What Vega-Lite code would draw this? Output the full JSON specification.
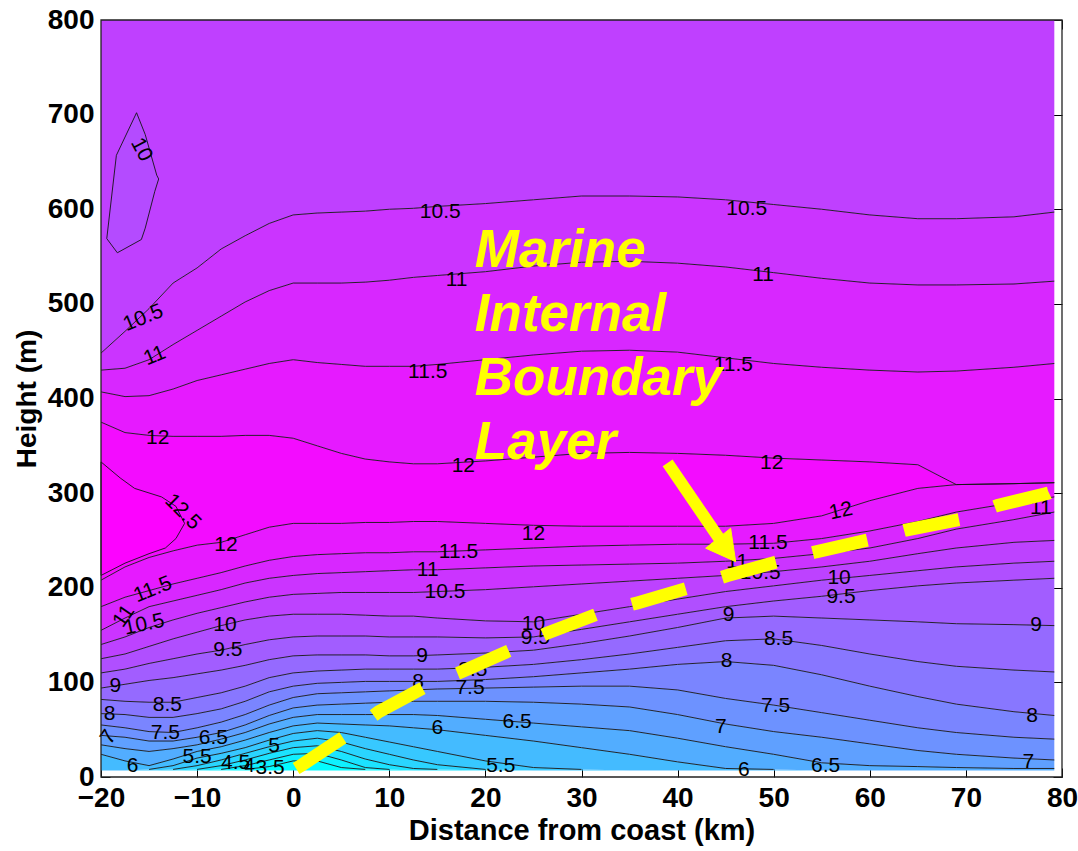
{
  "$schema": "https://vega.github.io/schema/vega-lite/v6.json",
  "width": 961,
  "height": 757,
  "autosize": {"type": "none"},
  "padding": {"left": 101, "top": 20, "right": 16, "bottom": 74},
  "background": "white",
  "config": {
    "view": {"stroke": null},
    "axis": {"domain": false, "grid": false, "labelFont": "Liberation Sans", "titleFont": "Liberation Sans", "labelFontWeight": "bold", "titleFontWeight": "bold", "labelColor": "#000", "titleColor": "#000", "tickColor": "#000", "labelOverlap": false},
    "text": {"font": "Liberation Sans", "fontSize": 21, "fill": "#000", "align": "center", "baseline": "middle"}
  },
  "datasets": {
    "c": [
      {"k": 0, "v": 3.3, "x": [-20,-17.5,-15,-12.5,-10,-7.5,-5,-2.5,0,2.5,5,7.5,10,12.5,15,20,25,30,35,40,45,50,55,60,65,69,75,79.2], "y": [7,7,7,7,7,7,7,7,7,7,7,7,7,7,7,7,7,7,7,7,7,7,7,7,7,7,7,7]},
      {"k": 1, "v": 3.75, "x": [-20,-17.5,-15,-12.5,-10,-7.5,-5,-2.5,0,2.5,5,7.5,10,12.5,15,20,25,30,35,40,45,50,55,60,65,69,75,79.2], "y": [7,7,7,7,7,7,8,11,17,17,10,8,7,7,7,7,7,7,7,7,7,7,7,7,7,7,7,7]},
      {"k": 2, "v": 4.25, "x": [-20,-17.5,-15,-12.5,-10,-7.5,-5,-2.5,0,2.5,5,7.5,10,12.5,15,20,25,30,35,40,45,50,55,60,65,69,75,79.2], "y": [7,7,7,7,7,8,12,18,24,25,18,10,8,7,7,7,7,7,7,7,7,7,7,7,7,7,7,7]},
      {"k": 3, "v": 4.75, "x": [-20,-17.5,-15,-12.5,-10,-7.5,-5,-2.5,0,2.5,5,7.5,10,12.5,15,20,25,30,35,40,45,50,55,60,65,69,75,79.2], "y": [7,7,7,7,8,12,18,25,31,33,27,19,13,9,8,7,7,7,7,7,7,7,7,7,7,7,7,7]},
      {"k": 4, "v": 5.25, "x": [-20,-17.5,-15,-12.5,-10,-7.5,-5,-2.5,0,2.5,5,7.5,10,12.5,15,20,25,30,35,40,45,50,55,60,65,69,75,79.2], "y": [7,7,7,8,12,18,25,32,38,41,37,30,24,18,13,8,7,7,7,7,7,7,7,7,7,7,7,7]},
      {"k": 5, "v": 5.75, "x": [-20,-17.5,-15,-12.5,-10,-7.5,-5,-2.5,0,2.5,5,7.5,10,12.5,15,20,25,30,35,40,45,50,55,60,65,69,75,79.2], "y": [7,7,8,12,20,25,31,39,46,49,47,42,37,32,27,17,10,8,7,7,7,7,7,7,7,7,7,7]},
      {"k": 6, "v": 6.25, "x": [-20,-17.5,-15,-12.5,-10,-7.5,-5,-2.5,0,2.5,5,7.5,10,12.5,15,20,25,30,35,40,45,50,55,60,65,69,75,79.2], "y": [24,17,12,19,27,32,39,47,54,57,56,55,54,52,50,44,38,31,24,16,9,8,7,7,7,7,7,7]},
      {"k": 7, "v": 6.75, "x": [-20,-17.5,-15,-12.5,-10,-7.5,-5,-2.5,0,2.5,5,7.5,10,12.5,15,20,25,30,35,40,45,50,55,60,65,69,75,79.2], "y": [34,30,27,30,34,40,47,56,63,66,66,66,66,66,65,61,57,53,49,41,32,24,15,12,11,10,9,9]},
      {"k": 8, "v": 7.25, "x": [-20,-17.5,-15,-12.5,-10,-7.5,-5,-2.5,0,2.5,5,7.5,10,12.5,15,20,25,30,35,40,45,50,55,60,65,69,75,79.2], "y": [44,42,38,38,42,47,55,65,73,76,77,78,79,80,80,80,79,77,74,66,56,48,42,35,28,24,20,18]},
      {"k": 9, "v": 7.75, "x": [-20,-17.5,-15,-12.5,-10,-7.5,-5,-2.5,0,2.5,5,7.5,10,12.5,15,20,25,30,35,40,45,50,55,60,65,69,75,79.2], "y": [55,52,48,47,52,58,66,76,84,88,89,90,91,92,93,94,95,96,96,92,83,76,68,60,52,47,42,40]},
      {"k": 10, "v": 8.25, "x": [-20,-17.5,-15,-12.5,-10,-7.5,-5,-2.5,0,2.5,5,7.5,10,12.5,15,20,25,30,35,40,45,50,55,60,65,69,75,79.2], "y": [67,66,63,63,67,72,80,90,96,99,100,101,101,101,101,103,106,110,114,119,122,118,108,96,85,77,69,65]},
      {"k": 11, "v": 8.75, "x": [-20,-17.5,-15,-12.5,-10,-7.5,-5,-2.5,0,2.5,5,7.5,10,12.5,15,20,25,30,35,40,45,50,55,60,65,69,75,79.2], "y": [82,80,79,79,84,89,96,105,110,112,113,114,114,114,114,116,119,124,130,137,144,146,139,130,122,117,113,111]},
      {"k": 12, "v": 9.25, "x": [-20,-17.5,-15,-12.5,-10,-7.5,-5,-2.5,0,2.5,5,7.5,10,12.5,15,20,25,30,35,40,45,50,55,60,65,69,75,79.2], "y": [94,98,102,105,109,113,118,124,128,129,129,129,128,128,129,131,134,141,149,158,168,170,168,166,164,162,161,160]},
      {"k": 13, "v": 9.75, "x": [-20,-17.5,-15,-12.5,-10,-7.5,-5,-2.5,0,2.5,5,7.5,10,12.5,15,20,25,30,35,40,45,50,55,60,65,69,75,79.2], "y": [110,114,120,125,130,134,140,145,148,149,149,149,148,148,148,147,148,156,164,172,180,186,191,197,202,205,208,210]},
      {"k": 14, "v": 10.25, "x": [-20,-17.5,-15,-12.5,-10,-7.5,-5,-2.5,0,2.5,5,7.5,10,12.5,15,20,25,30,35,40,45,50,55,60,65,69,75,79.2], "y": [125,130,138,146,153,160,166,170,172,172,172,171,170,170,168,165,164,172,180,188,196,202,208,213,218,222,226,228]},
      {"k": 15, "v": 10.75, "x": [-20,-17.5,-15,-12.5,-10,-7.5,-5,-2.5,0,2.5,5,7.5,10,12.5,15,20,25,30,35,40,45,50,55,60,65,69,75,79.2], "y": [140,148,158,166,173,179,185,190,193,194,195,195,195,195,196,198,201,204,207,210,213,217,222,228,236,242,248,250]},
      {"k": 16, "v": 11.25, "x": [-20,-17.5,-15,-12.5,-10,-7.5,-5,-2.5,0,2.5,5,7.5,10,12.5,15,20,25,30,35,40,45,50,55,60,65,69,75,79.2], "y": [155,168,180,186,192,198,205,210,213,215,216,217,218,219,219,221,223,224,225,226,228,231,236,242,252,262,272,280]},
      {"k": 17, "v": 11.75, "x": [-20,-17.5,-15,-12.5,-10,-7.5,-5,-2.5,0,2.5,5,7.5,10,12.5,15,20,25,30,35,40,45,50,55,60,65,69,75,79.2], "y": [180,190,197,204,210,216,223,229,233,235,236,237,237,238,238,240,242,244,245,246,246,247,252,260,270,280,290,296]},
      {"k": 18, "v": 12.25, "x": [-20,-17.5,-15,-12.5,-10,-7.5,-5,-2.5,0,2.5,5,7.5,10,12.5,15,20,25,30,35,40,45,50,55,60,65,69,75,79.2], "y": [208,222,232,239,245,248,256,264,268,268,268,269,269,270,270,268,266,265,265,265,265,268,276,292,305,309,310,311]},
      {"k": 19, "v": 11.75, "x": [-20,-17.5,-15,-12.5,-10,-7.5,-5,-2.5,0,2.5,5,7.5,10,12.5,15,20,25,30,35,40,45,50,55,60,65,69,75,79.2], "y": [375,364,361,360,360,360,361,361,358,350,342,336,333,331,331,334,338,342,343,342,340,337,335,333,330,309,310,311]},
      {"k": 20, "v": 11.25, "x": [-20,-17.5,-15,-12.5,-10,-7.5,-5,-2.5,0,2.5,5,7.5,10,12.5,15,20,25,30,35,40,45,50,55,60,65,69,75,79.2], "y": [407,402,403,410,419,425,431,437,441,438,436,434,434,434,436,441,446,450,451,449,443,437,433,430,428,429,433,437]},
      {"k": 21, "v": 10.75, "x": [-20,-17.5,-15,-12.5,-10,-7.5,-5,-2.5,0,2.5,5,7.5,10,12.5,15,20,25,30,35,40,45,50,55,60,65,69,75,79.2], "y": [430,432,441,457,472,487,502,514,522,522,522,523,525,528,530,534,540,544,545,543,539,533,527,522,520,520,521,524]},
      {"k": 22, "v": 10.3, "x": [-20,-17.5,-15,-12.5,-10,-7.5,-5,-2.5,0,2.5,5,7.5,10,12.5,15,20,25,30,35,40,45,50,55,60,65,69,75,79.2], "y": [448,471,495,522,538,558,572,585,594,596,597,598,600,601,603,606,610,614,614,613,610,605,600,594,590,590,592,597]},
      {"k": 23, "v": null, "x": [-20,-17.5,-15,-12.5,-10,-7.5,-5,-2.5,0,2.5,5,7.5,10,12.5,15,20,25,30,35,40,45,50,55,60,65,69,75,79.2], "y": [800,800,800,800,800,800,800,800,800,800,800,800,800,800,800,800,800,800,800,800,800,800,800,800,800,800,800,800]}
    ],
    "labs": [
      {"t": "10.5", "x": 15.3, "y": 597}, {"t": "10.5", "x": 47.2, "y": 600},
      {"t": "11", "x": 17, "y": 525}, {"t": "11", "x": 48.9, "y": 531},
      {"t": "11.5", "x": 14, "y": 428}, {"t": "11.5", "x": 45.8, "y": 435},
      {"t": "12", "x": -14.1, "y": 358}, {"t": "12", "x": 17.7, "y": 329}, {"t": "12", "x": 49.8, "y": 332},
      {"t": "12", "x": -7, "y": 245}, {"t": "12", "x": 25, "y": 257}, {"t": "11", "x": 77.8, "y": 284},
      {"t": "10", "x": -7.1, "y": 161}, {"t": "9.5", "x": -6.8, "y": 134}, {"t": "9", "x": -18.5, "y": 96},
      {"t": "8.5", "x": -13.1, "y": 76}, {"t": "8", "x": -19.1, "y": 67}, {"t": "7.5", "x": -13.3, "y": 46.5},
      {"t": "6.5", "x": -8.3, "y": 41}, {"t": "6", "x": -16.7, "y": 12}, {"t": "5.5", "x": -10, "y": 21},
      {"t": "5", "x": -2, "y": 33}, {"t": "4.5", "x": -6, "y": 15}, {"t": "4", "x": -4.6, "y": 12}, {"t": "3.5", "x": -2.4, "y": 10},
      {"t": "11.5", "x": 17.2, "y": 238}, {"t": "11", "x": 14, "y": 219}, {"t": "10.5", "x": 15.8, "y": 196},
      {"t": "10", "x": 25, "y": 162}, {"t": "9.5", "x": 25.2, "y": 147}, {"t": "9", "x": 13.4, "y": 128},
      {"t": "8", "x": 13, "y": 100}, {"t": "8.5", "x": 18.7, "y": 113}, {"t": "7.5", "x": 18.4, "y": 94},
      {"t": "6", "x": 15, "y": 52}, {"t": "6.5", "x": 23.3, "y": 58}, {"t": "5.5", "x": 21.6, "y": 11.6},
      {"t": "11.5", "x": 49.4, "y": 247}, {"t": "11", "x": 46.2, "y": 227}, {"t": "10.5", "x": 48.6, "y": 216},
      {"t": "10", "x": 56.8, "y": 210}, {"t": "9.5", "x": 57, "y": 190}, {"t": "9", "x": 45.3, "y": 171},
      {"t": "8.5", "x": 50.5, "y": 146}, {"t": "8", "x": 45.1, "y": 122.6}, {"t": "7.5", "x": 50.2, "y": 75},
      {"t": "7", "x": 44.5, "y": 53}, {"t": "6.5", "x": 55.4, "y": 11.6}, {"t": "6", "x": 46.9, "y": 7},
      {"t": "9", "x": 77.3, "y": 160.7}, {"t": "8", "x": 76.9, "y": 64.5}, {"t": "7", "x": 76.5, "y": 16}
    ]
  },
  "layer": [
    {
      "data": {"name": "c"},
      "transform": [
        {"flatten": ["x", "y"]},
        {"window": [{"op": "lead", "field": "y", "as": "y2"}], "groupby": ["x"], "sort": [{"field": "k", "order": "ascending"}]},
        {"filter": "datum.y2 != null"}
      ],
      "mark": {"type": "area", "interpolate": "linear"},
      "encoding": {
        "x": {"field": "x", "type": "quantitative", "scale": {"domain": [-20, 80], "nice": false, "zero": false},
              "axis": {"orient": "bottom", "values": [-20,-10,0,10,20,30,40,50,60,70,80], "title": "Distance from coast (km)", "labelFontSize": 28, "titleFontSize": 29, "tickSize": -9, "labelPadding": 16, "titlePadding": 4, "labelFlush": false}},
        "y": {"field": "y", "type": "quantitative", "stack": null, "scale": {"domain": [0, 800], "nice": false, "zero": false},
              "axis": {"orient": "left", "values": [0,100,200,300,400,500,600,700,800], "title": "Height (m)", "labelFontSize": 28, "titleFontSize": 28, "tickSize": -9, "labelPadding": 16, "titlePadding": 6}},
        "y2": {"field": "y2"},
        "color": {"field": "v", "type": "quantitative", "scale": {"domain": [3.2, 12.7], "range": ["#00ffff", "#ff00ff"], "interpolate": "rgb"}, "legend": null},
        "detail": {"field": "k", "type": "nominal"}
      }
    },
    {
      "data": {"values": [
        {"i": 0, "x": -20, "y": 333}, {"i": 1, "x": -18, "y": 316}, {"i": 2, "x": -16.5, "y": 305}, {"i": 3, "x": -13.7, "y": 296},
        {"i": 4, "x": -12.2, "y": 286}, {"i": 5, "x": -11.3, "y": 268}, {"i": 6, "x": -12.2, "y": 252}, {"i": 7, "x": -13.3, "y": 242},
        {"i": 8, "x": -15, "y": 236}, {"i": 9, "x": -17.5, "y": 226}, {"i": 10, "x": -20, "y": 213}
      ]},
      "mark": {"type": "line", "interpolate": "linear-closed", "fill": "#fc03ff", "stroke": "#141414", "strokeWidth": 0.9},
      "encoding": {
        "x": {"field": "x", "type": "quantitative", "axis": null},
        "y": {"field": "y", "type": "quantitative", "axis": null},
        "order": {"field": "i"}
      }
    },
    {
      "data": {"values": [
        {"i": 0, "x": -16.3, "y": 702}, {"i": 1, "x": -15.4, "y": 679}, {"i": 2, "x": -14.2, "y": 636}, {"i": 3, "x": -14.0, "y": 632},
        {"i": 4, "x": -14.4, "y": 619}, {"i": 5, "x": -15.4, "y": 580}, {"i": 6, "x": -15.8, "y": 568}, {"i": 7, "x": -18.3, "y": 554},
        {"i": 8, "x": -19.4, "y": 569}, {"i": 9, "x": -18.4, "y": 657}
      ]},
      "mark": {"type": "line", "interpolate": "linear-closed", "fill": "#b44bff", "stroke": "#141414", "strokeWidth": 0.9},
      "encoding": {
        "x": {"field": "x", "type": "quantitative", "axis": null},
        "y": {"field": "y", "type": "quantitative", "axis": null},
        "order": {"field": "i"}
      }
    },
    {
      "data": {"name": "c"},
      "transform": [
        {"flatten": ["x", "y"]},
        {"filter": "datum.k > 0 && datum.k < 23 && datum.y > 7"}
      ],
      "mark": {"type": "line", "stroke": "#141414", "strokeWidth": 0.9},
      "encoding": {
        "x": {"field": "x", "type": "quantitative", "axis": {"orient": "top", "labels": false, "title": null, "tickSize": -9, "values": [-20,-10,0,10,20,30,40,50,60,70,80]}},
        "y": {"field": "y", "type": "quantitative", "axis": {"orient": "right", "labels": false, "title": null, "tickSize": -9, "values": [0,100,200,300,400,500,600,700,800]}},
        "detail": {"field": "k", "type": "nominal"}
      }
    },
    {
      "data": {"name": "labs"},
      "mark": {"type": "text"},
      "encoding": {
        "x": {"field": "x", "type": "quantitative", "axis": null},
        "y": {"field": "y", "type": "quantitative", "axis": null},
        "text": {"field": "t"}
      }
    },
    {
      "data": {"values": [{"t": "10", "x": -15.8, "y": 663}]},
      "mark": {"type": "text", "angle": 62},
      "encoding": {"x": {"field": "x", "type": "quantitative", "axis": null}, "y": {"field": "y", "type": "quantitative", "axis": null}, "text": {"field": "t"}}
    },
    {
      "data": {"values": [{"t": "10.5", "x": -15.6, "y": 485}, {"t": "11", "x": -14.4, "y": 445}, {"t": "11.5", "x": -14.6, "y": 198}]},
      "mark": {"type": "text", "angle": -22},
      "encoding": {"x": {"field": "x", "type": "quantitative", "axis": null}, "y": {"field": "y", "type": "quantitative", "axis": null}, "text": {"field": "t"}}
    },
    {
      "data": {"values": [{"t": "12.5", "x": -11.5, "y": 280}]},
      "mark": {"type": "text", "angle": 45},
      "encoding": {"x": {"field": "x", "type": "quantitative", "axis": null}, "y": {"field": "y", "type": "quantitative", "axis": null}, "text": {"field": "t"}}
    },
    {
      "data": {"values": [{"t": "11", "x": -17.6, "y": 170}, {"t": "7", "x": -19.2, "y": 42}]},
      "mark": {"type": "text", "angle": -55},
      "encoding": {"x": {"field": "x", "type": "quantitative", "axis": null}, "y": {"field": "y", "type": "quantitative", "axis": null}, "text": {"field": "t"}}
    },
    {
      "data": {"values": [{"t": "10.5", "x": -15.5, "y": 161}, {"t": "12", "x": 57, "y": 281}]},
      "mark": {"type": "text", "angle": -12},
      "encoding": {"x": {"field": "x", "type": "quantitative", "axis": null}, "y": {"field": "y", "type": "quantitative", "axis": null}, "text": {"field": "t"}}
    },
    {
      "data": {"values": [
        {"x": 0.3, "y": 9}, {"x": 0.9, "y": 12.7}, {"x": 5.6, "y": 44.4}, {"x": 8.9, "y": 69}, {"x": 13.75, "y": 95.5},
        {"x": 17.7, "y": 112}, {"x": 22.6, "y": 134}, {"x": 26.4, "y": 152}, {"x": 31.6, "y": 172}, {"x": 35.8, "y": 184},
        {"x": 41, "y": 199.5}, {"x": 45.2, "y": 213}, {"x": 50.2, "y": 227}, {"x": 54.4, "y": 238}, {"x": 59.8, "y": 250.5},
        {"x": 63.75, "y": 261}, {"x": 69.3, "y": 272}, {"x": 73.3, "y": 287}, {"x": 78.6, "y": 300}, {"x": 79, "y": 302}
      ]},
      "mark": {"type": "line", "stroke": "#ffff00", "strokeWidth": 13, "strokeDash": [56, 38], "strokeCap": "butt"},
      "encoding": {"x": {"field": "x", "type": "quantitative", "axis": null}, "y": {"field": "y", "type": "quantitative", "axis": null}}
    },
    {
      "data": {"values": [{"x": 38.96, "y": 331.9}, {"x": 44.6, "y": 248}]},
      "mark": {"type": "line", "stroke": "#ffff00", "strokeWidth": 12, "strokeCap": "butt"},
      "encoding": {"x": {"field": "x", "type": "quantitative", "axis": null}, "y": {"field": "y", "type": "quantitative", "axis": null}}
    },
    {
      "data": {"values": [{"i": 0, "x": 42.92, "y": 241.8}, {"i": 1, "x": 46.04, "y": 227.6}, {"i": 2, "x": 45.52, "y": 262.9}]},
      "mark": {"type": "line", "interpolate": "linear-closed", "fill": "#ffff00", "stroke": "#ffff00", "strokeWidth": 1},
      "encoding": {"x": {"field": "x", "type": "quantitative", "axis": null}, "y": {"field": "y", "type": "quantitative", "axis": null}, "order": {"field": "i"}}
    },
    {
      "data": {"values": [{"t": "Marine\nInternal\nBoundary\nLayer", "x": 18.9, "y": 539.4}]},
      "mark": {"type": "text", "font": "Liberation Sans", "fontSize": 53, "fontWeight": "bold", "fontStyle": "italic", "fill": "#ffff00", "align": "left", "baseline": "alphabetic", "lineHeight": 64, "lineBreak": "\n"},
      "encoding": {"x": {"field": "x", "type": "quantitative", "axis": null}, "y": {"field": "y", "type": "quantitative", "axis": null}, "text": {"field": "t"}}
    },
    {
      "data": {"values": [{}]},
      "mark": {"type": "rect", "filled": false, "fill": null, "stroke": "#222", "strokeWidth": 1.3},
      "encoding": {
        "x": {"datum": -20, "type": "quantitative", "axis": null},
        "x2": {"datum": 80},
        "y": {"datum": 0, "type": "quantitative", "axis": null},
        "y2": {"datum": 800}
      }
    }
  ],
  "resolve": {"axis": {"x": "independent", "y": "independent"}}
}
